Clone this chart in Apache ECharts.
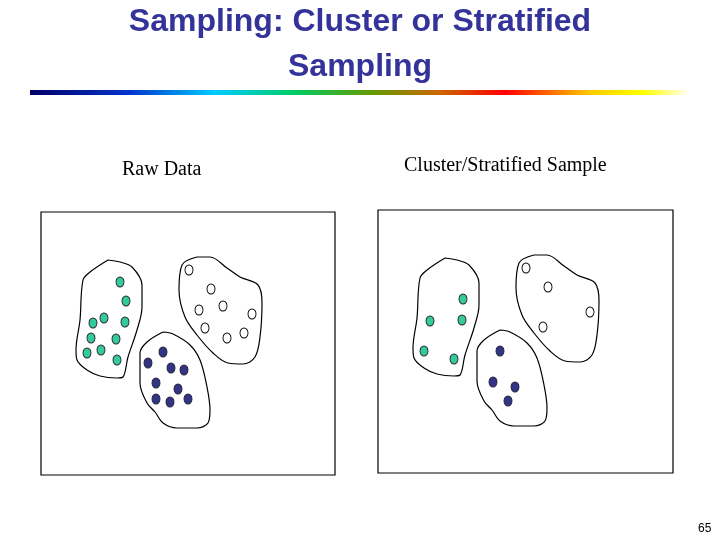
<!DOCTYPE html><html><head><meta charset="utf-8">
<script src="https://cdn.jsdelivr.net/npm/echarts@6/dist/echarts.min.js"></script>
<style>html,body{margin:0;background:#fff}#c{width:720px;height:540px}</style></head><body><div id="c"></div>
<script>
const greenAll=[[79,70],[85,89],[52,111],[63,106],[84,110],[50,126],[75,127],[46,141],[60,138],[76,148]];
const navyAll=[[122,140],[107,151],[130,156],[143,158],[115,171],[137,177],[115,187],[129,190],[147,187]];
const whiteAll=[[148,58],[170,77],[182,94],[158,98],[211,102],[164,116],[186,126],[203,121]];
const greenSample=[[85,89],[52,111],[84,110],[46,141],[76,149]];
const navySample=[[122,141],[115,172],[137,177],[130,191]];
const whiteSample=[[148,58],[170,77],[212,102],[165,117]];
const blobGreen=[[67,48],[79,50],[91,55],[101,73],[101,95],[96,118],[87,145],[82,165],[76,166],[59,164],[46,158],[36,148],[35,138],[39,108],[42,68],[49,60],[67,48]];
const blobNavy=[[122,120],[132,122],[149,133],[159,148],[166,175],[169,198],[167,211],[156,216],[136,216],[122,211],[114,200],[106,191],[99,171],[99,141],[106,130],[122,120]];
const blobWhite=[[156,45],[169,45],[186,56],[199,65],[217,73],[221,91],[219,125],[214,145],[202,152],[187,151],[172,141],[156,123],[144,105],[138,78],[141,53],[156,45]];
const chart=echarts.init(document.getElementById('c'));
const grids=[{left:41,top:212,width:294,height:263},{left:378,top:210,width:295,height:263}];
const xA=grids.map((g,i)=>({gridIndex:i,type:'value',min:0,max:g.width,show:false}));
const yA=grids.map((g,i)=>({gridIndex:i,type:'value',min:0,max:g.height,inverse:true,show:false}));
function blob(d,i){return {type:'line',xAxisIndex:i,yAxisIndex:i,data:d,smooth:0.35,symbol:'none',lineStyle:{color:'#000',width:1.2},z:2,silent:true};}
function pts(d,i,c){return {type:'scatter',xAxisIndex:i,yAxisIndex:i,data:d,symbol:'circle',symbolSize:[8,10],itemStyle:{color:c,opacity:1,borderColor:c==='#fff'?'#000':'#223',borderWidth:1},z:3,silent:true};}
const series=[];
[[greenAll,navyAll,whiteAll],[greenSample,navySample,whiteSample]].forEach((s,i)=>{
 series.push(blob(blobGreen,i),blob(blobNavy,i),blob(blobWhite,i));
 series.push(pts(s[0],i,'#33cc99'),pts(s[1],i,'#333388'),pts(s[2],i,'#fff'));
});
const tf='bold 32px "Liberation Sans", Arial, sans-serif';
chart.setOption({animation:false,
 grid:grids.map(g=>Object.assign({show:true,borderColor:'#000',borderWidth:1.2,backgroundColor:'#fff'},g)),
 xAxis:xA,yAxis:yA,series,
 graphic:[
  {type:'text',x:360,y:22,style:{text:'Sampling: Cluster or Stratified',fill:'#333399',font:tf,align:'center',verticalAlign:'middle'}},
  {type:'text',x:360,y:67,style:{text:'Sampling',fill:'#333399',font:tf,align:'center',verticalAlign:'middle'}},
  {type:'rect',shape:{x:30,y:90,width:660,height:5},style:{fill:new echarts.graphic.LinearGradient(0,0,1,0,[
   {offset:0,color:'#000066'},{offset:0.15,color:'#0033cc'},{offset:0.28,color:'#00ccff'},{offset:0.4,color:'#00cc66'},{offset:0.52,color:'#669900'},{offset:0.62,color:'#cc6600'},{offset:0.72,color:'#ff0000'},{offset:0.85,color:'#ffcc00'},{offset:0.93,color:'#ffff00'},{offset:1,color:'#ffffff'}])}},
  {type:'text',x:122,y:160,style:{text:'Raw Data',fill:'#000',font:'20px "Liberation Serif", serif'}},
  {type:'text',x:404,y:156,style:{text:'Cluster/Stratified Sample',fill:'#000',font:'20px "Liberation Serif", serif'}},
  {type:'text',x:698,y:523,style:{text:'65',fill:'#000',font:'12px "Liberation Sans", Arial, sans-serif'}}
 ]});
</script></body></html>
